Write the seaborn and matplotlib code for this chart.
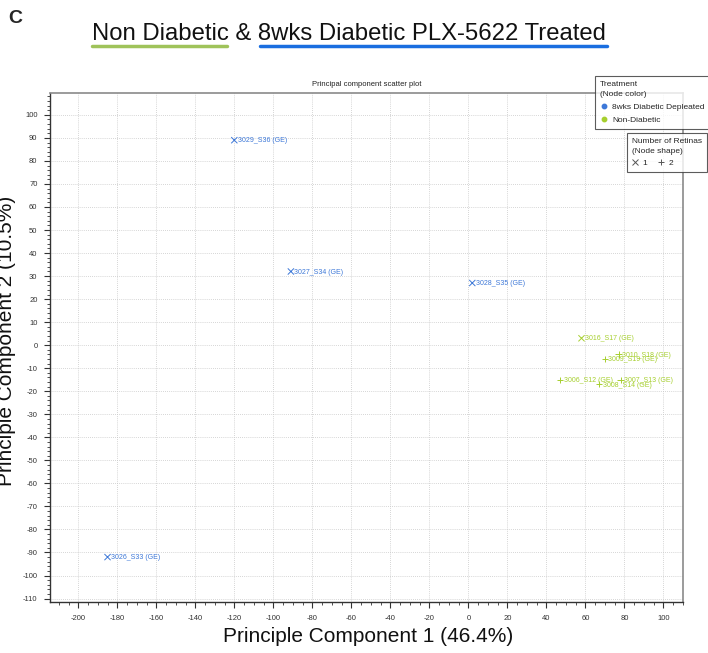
import numpy as np
import pandas as pd
import matplotlib
matplotlib.use("Agg")
import matplotlib.pyplot as plt
import seaborn as sns
from matplotlib.lines import Line2D
from matplotlib.ticker import MultipleLocator

# sample data
samples = ["3029_S36", "3027_S34", "3028_S35", "3026_S33", "3016_S17",
           "3010_S18", "3009_S19", "3006_S12", "3007_S13", "3008_S14"]
pc1 = [-120, -91, 2, -185, 58, 77, 70, 47, 78, 67]
pc2 = [89, 32, 27, -92, 3, -4, -6, -15, -15, -17]
treatment = ["8wks Diabetic Depleated"] * 4 + ["Non-Diabetic"] * 6
retinas = [1, 1, 1, 1, 1, 2, 2, 2, 2, 2]

blue = "#3d78d8"
green = "#a6cf2e"

df = pd.DataFrame({
    "Sample": samples,
    "PC1": pc1,
    "PC2": pc2,
    "Treatment": treatment,
    "Retinas": retinas,
})

sns.set_style("white")
plt.rcParams["font.family"] = ["Liberation Sans", "DejaVu Sans"]
plt.rcParams["axes.unicode_minus"] = False

fig = plt.figure(figsize=(7.08, 6.53), dpi=100)
ax = fig.add_axes([0.0706, 0.0781, 0.894, 0.7795])

sns.scatterplot(
    data=df, x="PC1", y="PC2",
    hue="Treatment", palette={"8wks Diabetic Depleated": blue, "Non-Diabetic": green},
    style="Retinas", markers={1: "x", 2: "+"},
    s=20, linewidth=0.7, legend=False, ax=ax,
)

for i, row in df.iterrows():
    col = blue if row["Treatment"] != "Non-Diabetic" else green
    ax.annotate(row["Sample"] + " (GE)", (row["PC1"], row["PC2"]),
                xytext=(2.5, -0.5), textcoords="offset points",
                va="center", ha="left", fontsize=5, color=col)

ax.set_xlim(-214.5, 110)
ax.set_ylim(-111.5, 109.5)
ax.xaxis.set_major_locator(MultipleLocator(20))
ax.xaxis.set_minor_locator(MultipleLocator(5))
ax.yaxis.set_major_locator(MultipleLocator(10))
ax.yaxis.set_minor_locator(MultipleLocator(2))
ax.tick_params(axis="both", which="major", direction="out", length=4, width=0.8,
               labelsize=5.5, labelcolor="#333333", color="#333333", pad=5)
ax.tick_params(axis="both", which="minor", direction="out", length=2.5, width=0.6,
               color="#333333")
ax.tick_params(bottom=True, left=True, which="both")
ax.grid(True, which="major", linestyle=(0, (1, 1.5)), color="#c8c8c8", linewidth=0.6)
ax.set_xlabel("")
ax.set_ylabel("")
for side in ["left", "bottom"]:
    ax.spines[side].set_color("#333333")
    ax.spines[side].set_linewidth(1.0)
for side in ["top", "right"]:
    ax.spines[side].set_color("#8a8a8a")
    ax.spines[side].set_linewidth(1.2)

# headings
fig.text(0.012, 0.985, "C", fontsize=14, fontweight="bold", va="top", ha="left")
fig.text(0.1300, 0.948, "Non Diabetic & 8wks Diabetic PLX-5622 Treated",
         fontsize=17.2, va="center", ha="left", color="#111111")
fig.add_artist(Line2D([92 / 708, 227 / 708], [1 - 46 / 653, 1 - 46 / 653],
                      color="#9fc35a", linewidth=2.5, transform=fig.transFigure))
fig.add_artist(Line2D([260 / 708, 607 / 708], [1 - 46 / 653, 1 - 46 / 653],
                      color="#1a6ee0", linewidth=2.5, transform=fig.transFigure))
fig.text(367 / 708, 1 - 84 / 653, "Principal component scatter plot",
         fontsize=5.5, ha="center", va="center", color="#222222")

fig.text(0.52, 0.026, "Principle Component 1 (46.4%)", fontsize=15, ha="center",
         va="center", color="#111111")
fig.text(0.009, 0.478, "Principle Component 2 (10.5%)", fontsize=15, ha="center",
         va="center", rotation=90, color="#111111")

# legends
h1 = [Line2D([], [], marker="o", linestyle="", color=blue, markersize=3.2),
      Line2D([], [], marker="o", linestyle="", color=green, markersize=3.2)]
leg1 = fig.legend(h1, ["8wks Diabetic Depleated", "Non-Diabetic"],
                  title="Treatment\n(Node color)", loc="upper left",
                  bbox_to_anchor=(595 / 708, 1 - 76 / 653), borderaxespad=0,
                  fontsize=6, title_fontsize=6, alignment="left", frameon=True,
                  fancybox=False, edgecolor="#333333", handlelength=1.0,
                  handletextpad=0.5, borderpad=0.6, labelspacing=0.6)
leg1.get_frame().set_linewidth(0.8)
leg1.get_title().set_linespacing(1.6)
h2 = [Line2D([], [], marker="x", linestyle="", color="#555555", markersize=4, markeredgewidth=0.7),
      Line2D([], [], marker="+", linestyle="", color="#555555", markersize=5, markeredgewidth=0.7)]
leg2 = fig.legend(h2, ["1", "2"], title="Number of Retinas\n(Node shape)",
                  loc="upper left", bbox_to_anchor=(627 / 708, 1 - 133 / 653),
                  borderaxespad=0, ncol=2, fontsize=6, title_fontsize=6,
                  alignment="left", frameon=True, fancybox=False, edgecolor="#333333",
                  handlelength=0.8, handletextpad=0.5, columnspacing=1.2,
                  borderpad=0.6)
leg2.get_frame().set_linewidth(0.8)
leg2.get_title().set_linespacing(1.6)

fig.savefig("out.png", dpi=100)
